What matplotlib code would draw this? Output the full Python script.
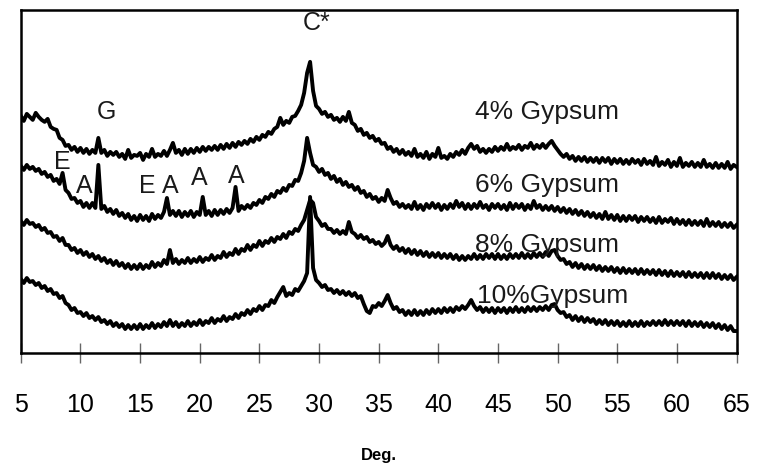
import numpy as np
import matplotlib
matplotlib.use("Agg")
import matplotlib.pyplot as plt

# 2-theta grid, 0.25 deg steps
deg = np.linspace(5, 65, 241)

# intensities (arbitrary units, traces already stacked)
gyp4 = [237, 232, 239, 236, 233, 240, 236, 233, 231, 234, 226, 224, 223, 215, 213, 207,
        208, 203, 206, 201, 205, 200, 204, 199, 203, 200, 215, 200, 203, 197, 201, 198,
        201, 196, 199, 194, 203, 195, 198, 197, 200, 193, 199, 196, 204, 196, 199, 197,
        202, 197, 203, 210, 200, 203, 198, 204, 199, 204, 200, 205, 201, 206, 202, 206,
        203, 207, 203, 208, 204, 209, 205, 210, 206, 211, 208, 212, 209, 214, 211, 216,
        213, 218, 216, 221, 219, 224, 226, 235, 228, 232, 230, 236, 237, 242, 248, 260,
        280, 291, 262, 247, 244, 239, 241, 236, 238, 233, 235, 231, 236, 232, 241, 230,
        228, 222, 224, 218, 220, 215, 217, 212, 214, 209, 210, 204, 206, 201, 204, 199,
        203, 198, 201, 197, 204, 196, 199, 195, 201, 194, 199, 196, 205, 195, 197, 194,
        199, 196, 201, 198, 203, 199, 205, 209, 204, 207, 201, 204, 200, 204, 201, 206,
        202, 206, 203, 209, 203, 206, 204, 208, 203, 207, 205, 210, 204, 208, 205, 209,
        205, 209, 212, 207, 203, 199, 196, 199, 194, 197, 192, 196, 192, 196, 191, 195,
        191, 195, 190, 195, 191, 195, 189, 194, 190, 194, 189, 193, 189, 194, 190, 193,
        188, 194, 189, 192, 188, 196, 187, 191, 188, 193, 186, 191, 187, 195, 186, 190,
        187, 191, 186, 190, 186, 193, 186, 189, 185, 190, 185, 189, 185, 191, 184, 188,
        186]
gyp6 = [187, 183, 188, 184, 186, 182, 184, 179, 181, 176, 178, 172, 174, 169, 180, 163,
        160, 154, 155, 150, 152, 146, 150, 145, 150, 145, 188, 144, 147, 141, 144, 139,
        143, 137, 140, 135, 139, 133, 137, 132, 138, 133, 137, 132, 139, 134, 138, 135,
        141, 155, 138, 142, 137, 142, 136, 141, 137, 142, 136, 141, 138, 156, 138, 142,
        137, 143, 138, 143, 139, 144, 140, 145, 166, 142, 147, 144, 148, 145, 150, 148,
        153, 150, 156, 154, 159, 156, 162, 160, 165, 162, 168, 167, 173, 172, 180, 192,
        215, 200, 188, 186, 181, 184, 178, 180, 174, 177, 171, 174, 168, 171, 166, 168,
        163, 166, 160, 162, 156, 159, 154, 156, 151, 155, 152, 163, 155, 149, 151, 146,
        149, 145, 148, 144, 151, 144, 148, 143, 149, 145, 150, 145, 149, 143, 148, 144,
        149, 145, 152, 146, 150, 144, 149, 144, 149, 145, 151, 145, 148, 143, 149, 145,
        149, 144, 148, 143, 150, 144, 149, 145, 149, 143, 148, 144, 152, 145, 148, 143,
        147, 143, 147, 142, 146, 141, 145, 140, 144, 139, 143, 138, 142, 137, 141, 136,
        140, 135, 139, 134, 141, 134, 138, 133, 138, 132, 137, 132, 137, 133, 137, 131,
        136, 132, 136, 131, 135, 130, 136, 130, 134, 131, 135, 129, 134, 129, 133, 128,
        133, 128, 132, 128, 132, 127, 134, 127, 131, 127, 131, 126, 130, 126, 130, 125,
        128]
gyp8 = [132, 128, 133, 129, 130, 126, 128, 123, 125, 120, 121, 116, 117, 112, 115, 108,
        108, 103, 105, 100, 103, 98, 101, 96, 99, 94, 97, 92, 95, 90, 93, 88,
        92, 87, 90, 85, 89, 84, 88, 84, 89, 84, 88, 85, 91, 86, 90, 87,
        93, 89, 103, 90, 94, 89, 93, 90, 95, 90, 94, 91, 96, 91, 95, 93,
        98, 93, 97, 95, 101, 96, 100, 98, 104, 99, 104, 102, 108, 103, 108, 106,
        112, 107, 112, 110, 115, 111, 116, 114, 119, 115, 121, 119, 124, 122, 128, 133,
        143, 153, 150, 136, 132, 127, 129, 124, 124, 120, 123, 119, 122, 119, 131, 121,
        119, 115, 118, 114, 116, 111, 113, 109, 111, 107, 110, 117, 108, 104, 107, 102,
        105, 100, 104, 99, 103, 98, 102, 97, 101, 96, 100, 96, 100, 95, 99, 95,
        99, 94, 98, 93, 97, 93, 97, 94, 99, 94, 98, 94, 99, 95, 99, 94,
        99, 94, 98, 94, 99, 95, 99, 95, 100, 95, 99, 95, 100, 96, 100, 96,
        101, 97, 102, 103, 97, 93, 94, 89, 91, 86, 90, 85, 89, 84, 88, 84,
        88, 83, 87, 82, 86, 82, 86, 81, 85, 80, 85, 80, 84, 80, 84, 79,
        84, 79, 83, 79, 83, 78, 83, 78, 82, 77, 82, 77, 81, 77, 81, 76,
        81, 76, 80, 76, 80, 75, 80, 75, 80, 75, 79, 74, 78, 74, 78, 73,
        76]
gyp10 = [74, 70, 75, 71, 72, 68, 70, 65, 67, 62, 64, 59, 60, 55, 57, 50,
         48, 43, 45, 40, 41, 37, 40, 35, 37, 33, 36, 31, 33, 29, 32, 27,
         30, 26, 29, 24, 28, 24, 28, 24, 29, 24, 28, 25, 30, 25, 29, 26,
         31, 27, 33, 27, 31, 26, 30, 27, 32, 27, 31, 28, 33, 28, 32, 30,
         35, 30, 34, 32, 37, 32, 36, 34, 39, 35, 40, 38, 43, 39, 44, 42,
         47, 43, 48, 47, 53, 50, 56, 61, 66, 57, 60, 58, 64, 62, 67, 72,
         80, 156, 85, 73, 70, 66, 68, 63, 64, 60, 63, 59, 62, 58, 61, 57,
         60, 55, 57, 49, 42, 40, 47, 46, 50, 47, 52, 58, 50, 44, 46, 41,
         43, 38, 42, 38, 43, 38, 42, 38, 43, 39, 44, 40, 44, 40, 45, 41,
         45, 41, 46, 43, 47, 44, 48, 53, 47, 43, 46, 41, 45, 41, 45, 40,
         45, 41, 45, 40, 45, 41, 46, 41, 45, 41, 46, 42, 46, 42, 46, 43,
         47, 43, 48, 49, 43, 40, 41, 36, 38, 33, 37, 32, 36, 31, 35, 31,
         34, 29, 33, 29, 33, 28, 32, 28, 32, 27, 31, 27, 32, 27, 31, 27,
         32, 27, 31, 28, 32, 28, 32, 28, 33, 28, 32, 28, 32, 28, 32, 27,
         32, 27, 31, 27, 31, 26, 30, 26, 30, 25, 29, 24, 28, 23, 27, 22,
         22]

traces = [gyp4, gyp6, gyp8, gyp10]
names = ["4% Gypsum", "6% Gypsum", "8% Gypsum", "10%Gypsum"]
name_pos = [(49.15, 241), (49.15, 168), (49.15, 108), (49.6, 57)]

# phase markers: (text, deg, intensity)
phases = [("C*", 29.8, 330), ("G", 12.15, 241), ("E", 8.46, 191), ("A", 10.3, 167),
          ("E", 15.6, 167), ("A", 17.5, 167), ("A", 20.0, 175), ("A", 23.05, 177)]

plt.rcParams['font.family'] = ['Liberation Sans', 'DejaVu Sans']

fig = plt.figure(figsize=(7.57, 4.67), dpi=100)
ax = fig.add_axes([0.0275, 0.244, 0.9455, 0.735])

for tr in traces:
    ax.plot(deg, tr, color='black', lw=2.8, solid_joinstyle='round')

for (nm, (px, py)) in zip(names, name_pos):
    ax.text(px, py, nm, ha='center', va='center', fontsize=19, color='#1a1a1a')

for t, px, py in phases:
    ax.text(px, py, t, ha='center', va='center', fontsize=18, color='#1a1a1a')

ax.set_xlim(5, 65)
ax.set_ylim(0, 343)
ax.set_xticks(np.arange(5, 66, 5))
ax.set_yticks([])
ax.tick_params(axis='x', direction='inout', length=14, width=1, color='#666666',
               labelsize=18, pad=22)
for sp in ax.spines.values():
    sp.set_linewidth(1.8)
ax.set_xlabel("Deg.", fontsize=12, fontweight='bold', labelpad=22)

plt.savefig('out.png', dpi=100)
plt.close()
